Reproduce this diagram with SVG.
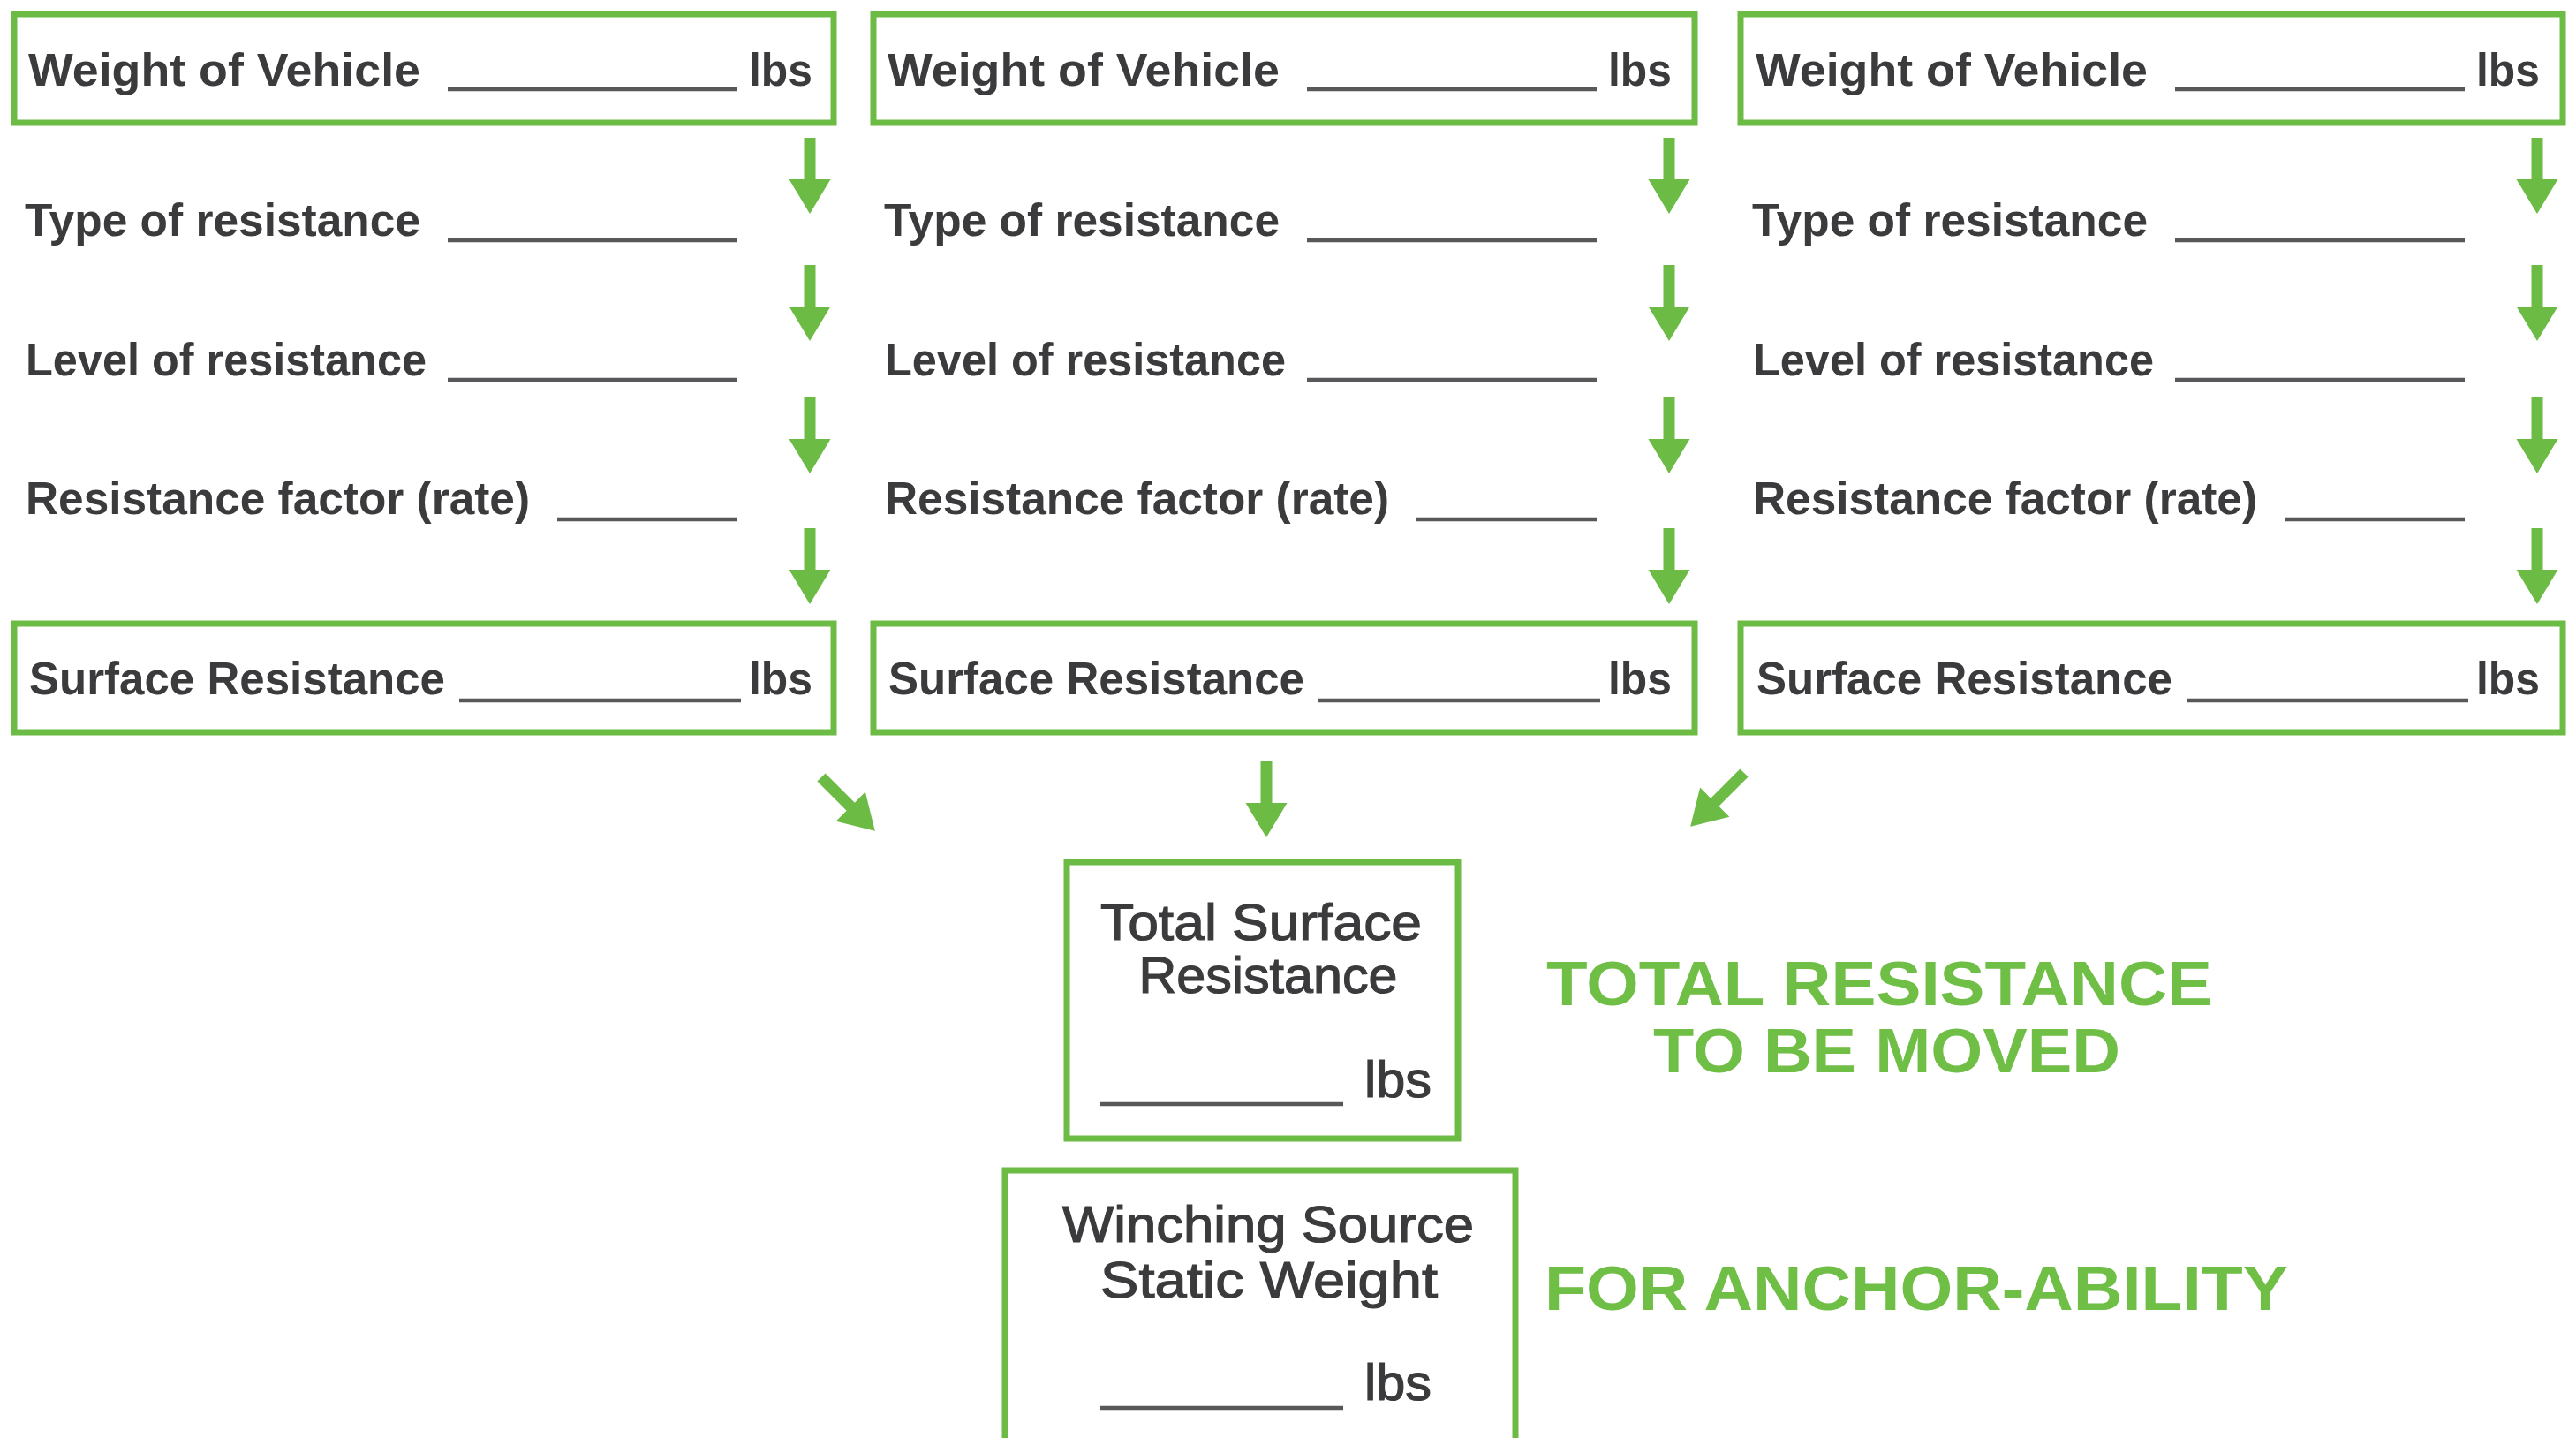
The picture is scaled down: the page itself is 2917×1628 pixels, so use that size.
<svg xmlns="http://www.w3.org/2000/svg" xmlns:xlink="http://www.w3.org/1999/xlink" width="2917" height="1628" viewBox="0 0 2917 1628">
<style>
.box{fill:#ffffff;stroke:#6cbb45;stroke-width:7}
.t{font-family:"Liberation Sans",Arial,sans-serif;font-weight:bold;font-size:52px;fill:#3b3b3d}
.c{font-family:"Liberation Sans",Arial,sans-serif;font-size:58px;fill:#3b3b3d;stroke:#3b3b3d;stroke-width:1.2}
.g{font-family:"Liberation Sans",Arial,sans-serif;font-weight:bold;font-size:70px;fill:#6fbe45}
.u{stroke:#58585a;stroke-width:4.5;fill:none}
.arr{fill:#6cbb45}
</style>
<defs>
<path id="arrow" d="M-6.5,0 H6.5 V47 H23.5 L0,86 L-23.5,47 H-6.5 Z"/>
<g id="colText">
<text class="t" x="32" y="97" textLength="444" lengthAdjust="spacingAndGlyphs">Weight of Vehicle</text>
<line class="u" x1="507" y1="101" x2="835" y2="101"/>
<text class="t" x="848" y="97" textLength="72" lengthAdjust="spacingAndGlyphs">lbs</text>
<text class="t" x="28" y="267" textLength="448" lengthAdjust="spacingAndGlyphs">Type of resistance</text>
<line class="u" x1="507" y1="272" x2="835" y2="272"/>
<text class="t" x="29" y="425" textLength="454" lengthAdjust="spacingAndGlyphs">Level of resistance</text>
<line class="u" x1="507" y1="430" x2="835" y2="430"/>
<text class="t" x="29" y="582" textLength="571" lengthAdjust="spacingAndGlyphs">Resistance factor (rate)</text>
<line class="u" x1="631" y1="588" x2="835" y2="588"/>
<text class="t" x="33" y="786" textLength="471" lengthAdjust="spacingAndGlyphs">Surface Resistance</text>
<line class="u" x1="520" y1="793" x2="839" y2="793"/>
<text class="t" x="848" y="786" textLength="72" lengthAdjust="spacingAndGlyphs">lbs</text>
</g>
</defs>
<rect width="2917" height="1628" fill="#ffffff"/>

<g id="col1">
<g id="weight1"><rect class="box" x="16" y="16" width="928" height="123"/></g>
<g id="surface1"><rect class="box" x="16" y="706" width="928" height="123"/></g>
<use xlink:href="#colText"/>
</g>
<g id="col2">
<g id="weight2"><rect class="box" x="989" y="16" width="930" height="123"/></g>
<g id="surface2"><rect class="box" x="989" y="706" width="930" height="123"/></g>
<use xlink:href="#colText" transform="translate(973,0)"/>
</g>
<g id="col3">
<g id="weight3"><rect class="box" x="1971" y="16" width="931" height="123"/></g>
<g id="surface3"><rect class="box" x="1971" y="706" width="931" height="123"/></g>
<use xlink:href="#colText" transform="translate(1956,0)"/>
</g>

<g id="total">
<rect class="box" x="1208" y="976" width="443" height="313"/>
<text class="c" x="1428" y="1064" text-anchor="middle" textLength="364" lengthAdjust="spacingAndGlyphs">Total Surface</text>
<text class="c" x="1436" y="1124" text-anchor="middle" textLength="293" lengthAdjust="spacingAndGlyphs">Resistance</text>
<line class="u" x1="1246" y1="1250" x2="1521" y2="1250"/>
<text class="c" x="1545" y="1242" textLength="76" lengthAdjust="spacingAndGlyphs">lbs</text>
</g>
<g id="winching">
<rect class="box" x="1138" y="1325" width="578" height="340"/>
<text class="c" x="1436" y="1406" text-anchor="middle" textLength="466" lengthAdjust="spacingAndGlyphs">Winching Source</text>
<text class="c" x="1437" y="1469" text-anchor="middle" textLength="382" lengthAdjust="spacingAndGlyphs">Static Weight</text>
<line class="u" x1="1246" y1="1594" x2="1521" y2="1594"/>
<text class="c" x="1545" y="1585" textLength="76" lengthAdjust="spacingAndGlyphs">lbs</text>
</g>
<g id="label-total">
<text class="g" x="1751" y="1138" textLength="754" lengthAdjust="spacingAndGlyphs">TOTAL RESISTANCE</text>
<text class="g" x="1872" y="1214" textLength="529" lengthAdjust="spacingAndGlyphs">TO BE MOVED</text>
</g>
<g id="label-anchor">
<text class="g" x="1749" y="1483" textLength="842" lengthAdjust="spacingAndGlyphs">FOR ANCHOR-ABILITY</text>
</g>

<g id="connectors" class="arr">
<use xlink:href="#arrow" transform="translate(917,156)"/>
<use xlink:href="#arrow" transform="translate(917,300)"/>
<use xlink:href="#arrow" transform="translate(917,450)"/>
<use xlink:href="#arrow" transform="translate(917,598)"/>
<use xlink:href="#arrow" transform="translate(1890,156)"/>
<use xlink:href="#arrow" transform="translate(1890,300)"/>
<use xlink:href="#arrow" transform="translate(1890,450)"/>
<use xlink:href="#arrow" transform="translate(1890,598)"/>
<use xlink:href="#arrow" transform="translate(2873,156)"/>
<use xlink:href="#arrow" transform="translate(2873,300)"/>
<use xlink:href="#arrow" transform="translate(2873,450)"/>
<use xlink:href="#arrow" transform="translate(2873,598)"/>
<use xlink:href="#arrow" transform="translate(930,880) rotate(-45)"/>
<use xlink:href="#arrow" transform="translate(1434,862)"/>
<use xlink:href="#arrow" transform="translate(1975,875) rotate(45)"/>
</g>
</svg>
